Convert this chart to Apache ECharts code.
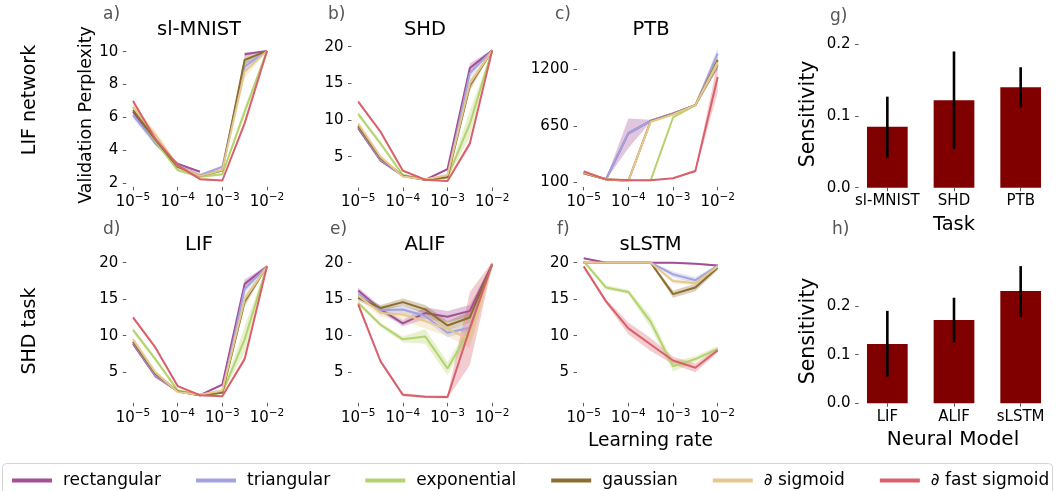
<!DOCTYPE html>
<html><head><meta charset="utf-8">
<script src="https://cdn.jsdelivr.net/npm/echarts@6/dist/echarts.min.js"></script>
<style>html,body{margin:0;padding:0;background:#fff}#c{width:1056px;height:491px}</style>
</head><body><div id="c"></div><script>
// ---------------- DATA ----------------
const learningRates = [1e-5, 3.16e-5, 1e-4, 3.16e-4, 1e-3, 3.16e-3, 1e-2];
const surrogateNames = ['rectangular', 'triangular', 'exponential', 'gaussian', '\u2202 sigmoid', '\u2202 fast sigmoid'];

// a) sl-MNIST (LIF network) — order: rect, tri, exp, gauss, sigmoid, fast sigmoid
const mnistMean = [
  [6.35, 4.45, 3.18, 2.7, null, 9.85, 10.05],
  [6.15, 4.45, 3.08, 2.5, 3.0, 9.1, 10.05],
  [6.6, 4.55, 2.8, 2.4, 2.55, 6.35, 10.05],
  [6.45, 4.65, 3.0, 2.45, 2.78, 9.5, 10.05],
  [6.65, 4.95, 3.08, 2.45, 2.8, 8.8, 10.05],
  [7.0, 4.7, 3.1, 2.25, 2.17, 5.65, 10.05]
];
const mnistSd = [
  [0.15, 0.1, 0.08, 0.05, null, 0.1, 0.03],
  [0.2, 0.15, 0.1, 0.08, 0.1, 0.4, 0.03],
  [0.15, 0.15, 0.1, 0.08, 0.08, 0.3, 0.03],
  [0.15, 0.2, 0.1, 0.08, 0.08, 0.3, 0.03],
  [0.2, 0.25, 0.1, 0.08, 0.08, 0.4, 0.03],
  [0.1, 0.1, 0.08, 0.05, 0.05, 0.2, 0.03]
];
// b) SHD (LIF network) == d) LIF (SHD task)
const shdLifMean = [
  [8.9, 4.5, 2.4, 1.85, 3.3, 17.1, 19.5],
  [9.1, 4.6, 2.4, 1.85, 2.3, 16.4, 19.5],
  [10.8, 6.8, 2.5, 1.9, 2.2, 9.5, 19.5],
  [9.2, 4.8, 2.4, 1.85, 2.2, 14.7, 19.5],
  [9.5, 5.0, 2.3, 1.9, 2.5, 15.0, 19.5],
  [12.5, 8.4, 3.1, 1.85, 1.7, 6.8, 19.5]
];
const shdLifSd = [
  [0.3, 0.3, 0.15, 0.1, 0.15, 0.6, 0.1],
  [0.3, 0.3, 0.15, 0.1, 0.15, 0.6, 0.1],
  [0.3, 0.3, 0.15, 0.1, 0.15, 1.8, 0.1],
  [0.3, 0.3, 0.15, 0.1, 0.15, 0.7, 0.1],
  [0.3, 0.3, 0.15, 0.1, 0.15, 0.7, 0.1],
  [0.2, 0.2, 0.15, 0.1, 0.1, 0.4, 0.1]
];
// c) PTB (LIF network)
const ptbMean = [
  [187, 130, 576, 699, 770, 851, 1239],
  [187, 130, 576, 699, 770, 851, 1352],
  [190, 130, 118, 119, 731, 851, 1250],
  [190, 130, 113, 695, 765, 851, 1290],
  [195, 130, 113, 690, 760, 851, 1271],
  [205, 128, 123, 120, 139, 210, 1126]
];
const ptbSd = [
  [10, 5, 145, 10, 10, 8, 40],
  [10, 5, 20, 10, 10, 8, 60],
  [10, 5, 5, 5, 10, 8, 30],
  [10, 5, 5, 10, 10, 8, 30],
  [10, 5, 5, 10, 10, 8, 30],
  [15, 5, 5, 5, 5, 15, 150]
];
// e) ALIF (SHD task)
const alifMean = [
  [16.2, 13.6, 11.7, 13.1, 12.6, 13.4, 19.8],
  [15.7, 13.5, 13.6, 12.7, 10.4, 11.1, 19.8],
  [14.5, 11.5, 9.5, 9.9, 5.5, 10.8, 19.8],
  [15.2, 13.8, 14.6, 13.6, 11.4, 12.5, 19.8],
  [15.5, 13.1, 12.9, 12.0, 10.9, 9.5, 19.8],
  [14.3, 6.5, 1.9, 1.65, 1.6, 11.0, 19.8]
];
const alifSd = [
  [0.4, 0.4, 0.4, 0.8, 0.8, 0.8, 0.2],
  [0.4, 0.4, 0.5, 0.6, 0.6, 0.5, 0.2],
  [0.3, 0.3, 0.4, 1.0, 0.9, 0.8, 0.3],
  [0.4, 0.4, 0.5, 0.6, 0.6, 0.8, 0.2],
  [0.4, 0.5, 0.8, 1.0, 1.0, 1.2, 0.3],
  [0.4, 0.3, 0.2, 0.2, 0.2, 5.0, 0.3]
];
// f) sLSTM (SHD task)
const slstmMean = [
  [20.6, 20.0, 20.0, 20.0, 20.0, 19.85, 19.6],
  [20.0, 20.0, 20.0, 20.0, 18.4, 17.6, 19.6],
  [20.2, 16.6, 16.0, 11.9, 5.8, 6.8, 8.2],
  [20.0, 20.0, 20.0, 20.0, 15.7, 16.6, 19.3],
  [20.0, 20.0, 20.0, 20.0, 17.5, 17.2, 19.5],
  [19.5, 14.7, 11.0, 8.8, 6.6, 5.6, 8.0]
];
const slstmSd = [
  [0.1, 0.1, 0.1, 0.1, 0.1, 0.1, 0.15],
  [0.1, 0.1, 0.1, 0.1, 0.4, 0.4, 0.2],
  [0.1, 0.3, 0.3, 0.8, 0.7, 0.4, 0.4],
  [0.1, 0.1, 0.1, 0.1, 0.5, 0.5, 0.3],
  [0.1, 0.1, 0.1, 0.1, 0.3, 0.3, 0.2],
  [0.2, 0.3, 0.8, 0.9, 0.5, 0.6, 0.3]
];
// tick labels
const ticksMnist = [2, 4, 6, 8, 10];
const ticksShd = [5, 10, 15, 20];
const ticksPtb = [100, 650, 1200];
const ticksSens = [0, 0.1, 0.2];
// g) sensitivity per task
const taskNames = ['sl-MNIST', 'SHD', 'PTB'];
const taskSens = [0.085, 0.122, 0.140];
const taskSensLo = [0.042, 0.054, 0.112];
const taskSensHi = [0.127, 0.190, 0.168];
// h) sensitivity per neural model
const modelNames = ['LIF', 'ALIF', 'sLSTM'];
const modelSens = [0.122, 0.171, 0.231];
const modelSensLo = [0.055, 0.125, 0.178];
const modelSensHi = [0.190, 0.217, 0.282];

// ---------------- STYLE / LAYOUT ----------------
const colors = ['#a54e96', '#a0a3e0', '#b4d36c', '#8c6d30', '#e6c88e', '#d9606b'];
const FONT = 'DejaVu Sans';

function layout(left, width, v1, y1, v2, y2, ymin, ymax) {
  const k = (y2 - y1) / (v2 - v1);
  const top = y1 + (ymax - v1) * k;
  const bottom = y1 + (ymin - v1) * k;
  return { left, width, top, height: bottom - top, min: ymin, max: ymax };
}
const cols = [133, 358.2, 583.7];
const W = 134;
const panels = [
  { L: layout(cols[0], W, 10, 51.7, 2, 183.3, 1.78, 10.44), mean: mnistMean, sd: mnistSd, ticks: ticksMnist },
  { L: layout(cols[1], W, 20, 46.7, 5, 156.7, 0.8, 20.5), mean: shdLifMean, sd: shdLifSd, ticks: ticksShd },
  { L: layout(cols[2], W, 1200, 69.3, 100, 182.3, 55, 1480), mean: ptbMean, sd: ptbSd, ticks: ticksPtb },
  { L: layout(cols[0], W, 20, 262.7, 5, 372.2, 0.8, 21), mean: shdLifMean, sd: shdLifSd, ticks: ticksShd },
  { L: layout(cols[1], W, 20, 262.7, 5, 372.2, 0.8, 21), mean: alifMean, sd: alifSd, ticks: ticksShd },
  { L: layout(cols[2], W, 20, 262.7, 5, 372.2, 0.8, 21), mean: slstmMean, sd: slstmSd, ticks: ticksShd }
];
const barPanels = [
  { L: layout(854, 200, 0.2, 44.3, 0, 187.7, 0, 0.2), cats: taskNames, vals: taskSens, lo: taskSensLo, hi: taskSensHi },
  { L: layout(854, 200, 0.2, 306, 0, 403.3, 0, 0.296), cats: modelNames, vals: modelSens, lo: modelSensLo, hi: modelSensHi }
];

const grids = [], xAxes = [], yAxes = [], series = [];
const tickStyle = { color: '#333', width: 0.8 };

panels.forEach((p, gi) => {
  grids.push({ left: p.L.left, top: p.L.top, width: p.L.width, height: p.L.height });
  xAxes.push({
    gridIndex: gi, type: 'log', logBase: 10, min: 1e-5, max: 1e-2,
    axisLine: { show: false }, splitLine: { show: false },
    axisTick: { show: true, length: 3.5, lineStyle: tickStyle },
    axisLabel: {
      margin: 5,
      formatter: v => '{b|10}{s|\u2212' + Math.round(-Math.log10(v)) + '}',
      rich: {
        b: { fontSize: 15, lineHeight: 20, color: '#000', fontFamily: FONT },
        s: { fontSize: 10.5, lineHeight: 11, verticalAlign: 'top', color: '#000', fontFamily: FONT }
      }
    }
  });
  yAxes.push({
    gridIndex: gi, type: 'value', min: p.L.min, max: p.L.max, offset: 6.7,
    axisLine: { show: false }, splitLine: { show: false },
    axisTick: { show: true, length: 3.5, lineStyle: tickStyle, customValues: p.ticks },
    axisLabel: { customValues: p.ticks, formatter: v => String(v), fontSize: 15, color: '#000', fontFamily: FONT, margin: 8 }
  });
  p.mean.forEach((m, si) => {
    const sd = p.sd[si];
    const color = colors[si];
    series.push({
      type: 'custom', xAxisIndex: gi, yAxisIndex: gi, silent: true, z: 1,
      data: [[learningRates[0], m[0]]],
      renderItem: (params, api) => {
        const children = [];
        let seg = [];
        const flush = () => {
          if (seg.length > 1) {
            const top = seg.map(i => api.coord([learningRates[i], m[i] + sd[i]]));
            const bot = seg.map(i => api.coord([learningRates[i], m[i] - sd[i]])).reverse();
            children.push({ type: 'polygon', shape: { points: top.concat(bot) }, style: { fill: color, opacity: 0.32 } });
          }
          seg = [];
        };
        m.forEach((v, i) => { if (v == null) flush(); else seg.push(i); });
        flush();
        return { type: 'group', children };
      }
    });
    series.push({
      type: 'line', name: surrogateNames[si], xAxisIndex: gi, yAxisIndex: gi,
      data: m.map((v, i) => [learningRates[i], v == null ? '-' : v]),
      showSymbol: false, symbol: 'none', clip: false, silent: true, z: 3,
      lineStyle: { width: 2, color }, itemStyle: { color },
      emphasis: { disabled: true }
    });
  });
});

barPanels.forEach((b, k) => {
  const gi = panels.length + k;
  grids.push({ left: b.L.left, top: b.L.top, width: b.L.width, height: b.L.height });
  xAxes.push({
    gridIndex: gi, type: 'category', data: b.cats,
    axisLine: { show: false }, splitLine: { show: false },
    axisTick: { show: true, alignWithLabel: true, interval: 0, length: 3.5, lineStyle: tickStyle },
    axisLabel: { interval: 0, hideOverlap: false, fontSize: 15, color: '#000', fontFamily: FONT, margin: 6 }
  });
  yAxes.push({
    gridIndex: gi, type: 'value', min: b.L.min, max: b.L.max, offset: -4.6,
    axisLine: { show: false }, splitLine: { show: false },
    axisTick: { show: true, length: 3.5, lineStyle: tickStyle, customValues: ticksSens },
    axisLabel: { customValues: ticksSens, formatter: v => v.toFixed(1), fontSize: 15, color: '#000', fontFamily: FONT, margin: 8 }
  });
  series.push({
    type: 'bar', xAxisIndex: gi, yAxisIndex: gi, data: b.vals, barWidth: 40.7,
    itemStyle: { color: '#800000' }, silent: true, z: 2
  });
  series.push({
    type: 'custom', xAxisIndex: gi, yAxisIndex: gi, silent: true, z: 5,
    data: b.vals.map((v, i) => [i, b.lo[i], b.hi[i]]),
    renderItem: (params, api) => {
      const p1 = api.coord([api.value(0), api.value(1)]);
      const p2 = api.coord([api.value(0), api.value(2)]);
      return { type: 'line', shape: { x1: p1[0], y1: p1[1], x2: p2[0], y2: p2[1] }, style: { stroke: '#000', lineWidth: 2.6 } };
    }
  });
});

function txt(x, y, text, size, opt) {
  opt = opt || {};
  return {
    type: 'text', x, y, rotation: opt.rot || 0, z: 10,
    style: { text, fontSize: size, fontFamily: FONT, fill: opt.color || '#000',
      align: opt.align || 'center', verticalAlign: 'middle' }
  };
}
const R = Math.PI / 2;
const graphics = [
  { type: 'rect', z: 0, shape: { x: 2.5, y: 463.5, width: 1050, height: 40, r: 4 }, style: { fill: '#fff', stroke: '#d4d4d4', lineWidth: 1 } },
  txt(30, 100, 'LIF network', 19, { rot: R }),
  txt(30, 331, 'SHD task', 19, { rot: R }),
  txt(86, 115, 'Validation Perplexity', 17.4, { rot: R }),
  txt(199, 30, 'sl-MNIST', 19.5), txt(425, 30, 'SHD', 19.5), txt(651, 30, 'PTB', 19.5),
  txt(199, 245, 'LIF', 19.5), txt(425, 245, 'ALIF', 19.5), txt(650.5, 245, 'sLSTM', 19.5),
  txt(103, 15, 'a)', 17, { align: 'left', color: '#555' }),
  txt(328, 15, 'b)', 17, { align: 'left', color: '#555' }),
  txt(555, 15, 'c)', 17, { align: 'left', color: '#555' }),
  txt(830, 17, 'g)', 17, { align: 'left', color: '#555' }),
  txt(103, 230, 'd)', 17, { align: 'left', color: '#555' }),
  txt(330, 230, 'e)', 17, { align: 'left', color: '#555' }),
  txt(557, 230, 'f)', 17, { align: 'left', color: '#555' }),
  txt(832, 230, 'h)', 17, { align: 'left', color: '#555' }),
  txt(650.5, 441, 'Learning rate', 18.7),
  txt(954, 225, 'Task', 19.5),
  txt(953, 440, 'Neural Model', 20),
  txt(809, 114, 'Sensitivity', 20.5, { rot: R }),
  txt(809, 331, 'Sensitivity', 20.5, { rot: R })
];

const chart = echarts.init(document.getElementById('c'), null, { renderer: 'canvas' });
chart.setOption({
  animation: false,
  backgroundColor: '#fff',
  textStyle: { fontFamily: FONT },
  grid: grids, xAxis: xAxes, yAxis: yAxes, series,
  legend: {
    data: surrogateNames, left: 7, top: 467, icon: 'rect', itemWidth: 40, itemHeight: 4,
    itemGap: 35, selectedMode: false, z: 20,
    textStyle: { fontSize: 17, color: '#000', fontFamily: FONT, padding: [0, 0, 0, 6] }
  },
  graphic: graphics
});
</script></body></html>
